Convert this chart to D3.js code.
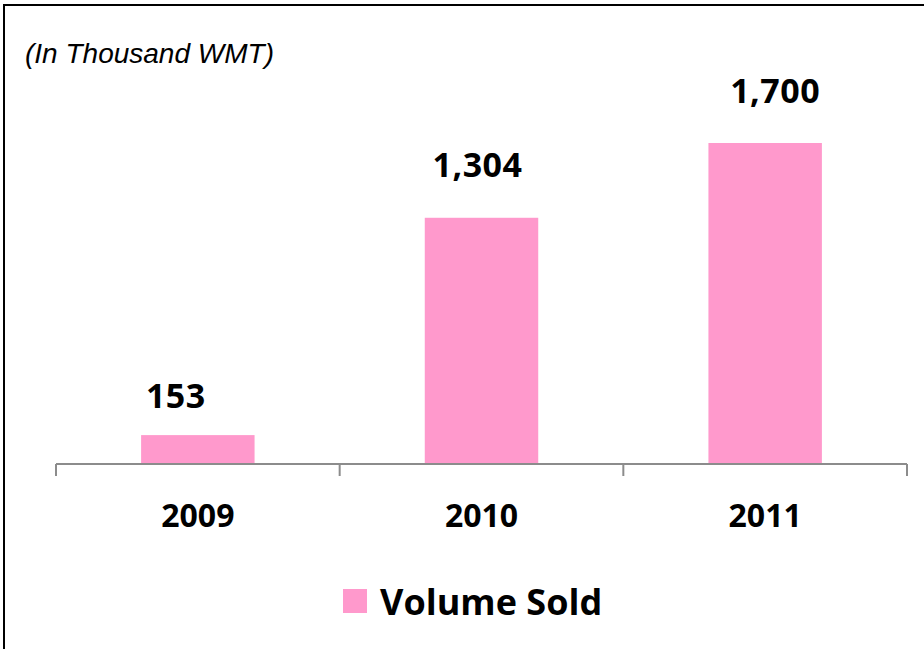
<!DOCTYPE html>
<html>
<head>
<meta charset="utf-8">
<script src="https://cdn.jsdelivr.net/npm/d3@7"></script>
<style>
  body { margin: 0; background: #fff; }
  svg { display: block; }
</style>
</head>
<body>
<svg id="chart" width="924" height="649"></svg>
<script>
var years = ["2009", "2010", "2011"];
var volumeSold = [153, 1304, 1700];
var valueLabels = ["153", "1,304", "1,700"];
var seriesName = "Volume Sold";
var unitNote = "(In Thousand WMT)";

// label nudges as placed in the original
var labelDx = [-22, -4, 10];
var labelGap = [27, 41, 40];

var svg = d3.select("#chart");
var barColor = "#ff99cc";

svg.append("rect")
	.attr("x", 4).attr("y", 5)
	.attr("width", 940).attr("height", 660)
	.attr("fill", "#fff")
	.attr("stroke", "#000")
	.attr("stroke-width", 2);

var x = d3.scaleBand().domain(years).range([56, 907]).paddingInner(0.6).paddingOuter(0.3);
var y = d3.scaleLinear().domain([0, 1700]).range([464, 143]);

svg.selectAll("rect.bar")
	.data(volumeSold)
	.enter().append("rect")
	.attr("class", "bar")
	.attr("x", (d, i) => x(years[i]))
	.attr("y", d => y(d))
	.attr("width", x.bandwidth())
	.attr("height", d => y(0) - y(d))
	.attr("fill", barColor);

// axis line with ticks between categories
var axisG = svg.append("g");
axisG.append("line")
	.attr("x1", 56).attr("x2", 907)
	.attr("y1", y(0)).attr("y2", y(0))
	.attr("stroke", "#8c8c8c").attr("stroke-width", 2);

var tickX = years.map(d => x(d) - x.step() * 0.3).concat([x(years[years.length - 1]) + x.bandwidth() + x.step() * 0.3]);
axisG.selectAll("line.tick")
	.data(tickX)
	.enter().append("line")
	.attr("class", "tick")
	.attr("x1", d => d).attr("x2", d => d)
	.attr("y1", y(0)).attr("y2", y(0) + 12)
	.attr("stroke", "#8c8c8c").attr("stroke-width", 2);

axisG.selectAll("text.cat")
	.data(years)
	.enter().append("text")
	.attr("class", "cat")
	.attr("x", d => x(d) + x.bandwidth() / 2)
	.attr("y", y(0) + 63)
	.attr("text-anchor", "middle")
	.attr("font-family", "'Open Sans', sans-serif")
	.attr("font-weight", "bold")
	.attr("font-size", 32)
	.attr("fill", "#000")
	.text(d => d);

svg.selectAll("text.val")
	.data(volumeSold)
	.enter().append("text")
	.attr("class", "val")
	.attr("x", (d, i) => x(years[i]) + x.bandwidth() / 2 + labelDx[i])
	.attr("y", (d, i) => y(d) - labelGap[i])
	.attr("text-anchor", "middle")
	.attr("font-family", "'Open Sans', sans-serif")
	.attr("font-weight", "bold")
	.attr("font-size", 34)
	.attr("letter-spacing", 0.5)
	.attr("fill", "#000")
	.text((d, i) => valueLabels[i]);

svg.append("text")
	.attr("x", 25).attr("y", 63)
	.attr("font-family", "'Liberation Sans', Arial, sans-serif")
	.attr("font-style", "italic")
	.attr("font-size", 28)
	.attr("fill", "#000")
	.text(unitNote);

// legend
var legend = svg.append("g");
legend.append("rect")
	.attr("x", 343).attr("y", 589)
	.attr("width", 24).attr("height", 24)
	.attr("fill", barColor);
legend.append("text")
	.attr("x", 380).attr("y", 615)
	.attr("font-family", "'Open Sans', sans-serif")
	.attr("font-weight", "bold")
	.attr("font-size", 36)
	.attr("fill", "#000")
	.text(seriesName);
</script>
</body>
</html>
